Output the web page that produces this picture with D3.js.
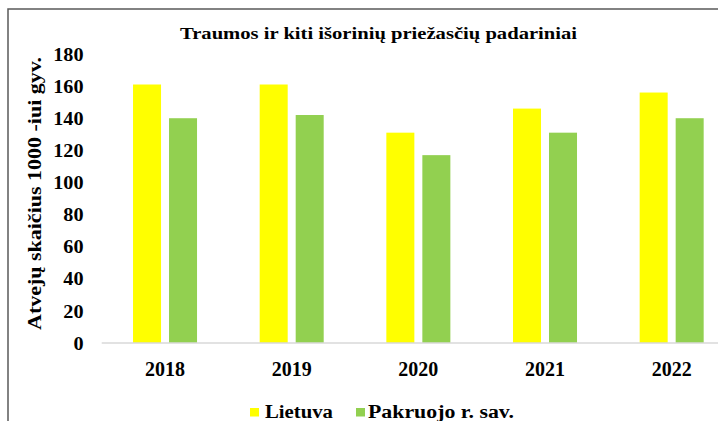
<!DOCTYPE html>
<html>
<head>
<meta charset="utf-8">
<script src="https://cdn.jsdelivr.net/npm/d3@7"></script>
<style>
  html, body { margin: 0; padding: 0; background: #fff; }
  svg { display: block; }
</style>
</head>
<body>
<svg id="chart" width="718" height="421"></svg>
<script>
// Chart data
const years = ["2018", "2019", "2020", "2021", "2022"];
const seriesNames = ["Lietuva", "Pakruojo r. sav."];
const lietuva = [161, 161, 131, 146, 156];
const pakruojo = [140, 142, 117, 131, 140];
const yTicks = [0, 20, 40, 60, 80, 100, 120, 140, 160, 180];
const colors = ["#ffff00", "#92d050"];

const FONT = '"Liberation Serif"';

const svg = d3.select("#chart");

function styleText(sel, size) {
  return sel.style("font-family", FONT)
    .style("font-size", size + "px")
    .style("font-weight", "bold")
    .attr("fill", "#000");
}

// Outer chart frame (extends beyond the right and bottom edges)
svg.append("rect")
  .attr("x", 8).attr("y", 9)
  .attr("width", 760).attr("height", 460)
  .attr("fill", "none")
  .attr("stroke", "#595959")
  .attr("stroke-width", 1.5);

const x0 = d3.scaleBand().domain(years).range([101.7, 735]).padding(0);
const x1 = d3.scaleBand().domain(seriesNames).range([0, x0.bandwidth()])
  .paddingInner(0.222).paddingOuter(0.87);
const y = d3.scaleLinear().domain([0, 180]).range([343, 54]);

const rows = years.map((yr, i) => ({ year: yr, values: [lietuva[i], pakruojo[i]] }));

// Bars
const groups = svg.append("g").selectAll("g")
  .data(rows).join("g")
  .attr("transform", d => `translate(${x0(d.year)},0)`);

groups.selectAll("rect")
  .data(d => d.values.map((v, j) => ({ name: seriesNames[j], value: v, j })))
  .join("rect")
  .attr("x", d => x1(d.name))
  .attr("width", x1.bandwidth())
  .attr("y", d => y(d.value))
  .attr("height", d => y(0) - y(d.value))
  .attr("fill", d => colors[d.j]);

// Category axis baseline
svg.append("line")
  .attr("x1", 101.7).attr("x2", 735)
  .attr("y1", y(0)).attr("y2", y(0))
  .attr("stroke", "#d9d9d9").attr("stroke-width", 1.5);

// X axis labels
const xAxis = d3.axisBottom(x0).tickSize(0).tickPadding(0);
const gx = svg.append("g").attr("transform", `translate(0,${y(0)})`).call(xAxis);
gx.attr("font-family", null);
gx.select(".domain").remove();
styleText(gx.selectAll("text"), 20).attr("y", 33).attr("dy", null);

// Y axis labels
const yAxis = d3.axisLeft(y).tickValues(yTicks).tickSize(0).tickPadding(0);
const gy = svg.append("g").attr("transform", "translate(83.5,0)").call(yAxis);
gy.attr("font-family", null);
gy.select(".domain").remove();
styleText(gy.selectAll("text"), 18)
  .attr("dy", "0.34em")
  .attr("textLength", d => String(d).length * 10.1)
  .attr("lengthAdjust", "spacingAndGlyphs");

// Title
styleText(svg.append("text"), 16)
  .attr("x", 180).attr("y", 39)
  .attr("textLength", 397)
  .attr("lengthAdjust", "spacingAndGlyphs")
  .text("Traumos ir kiti išorinių priežasčių padariniai");

// Y axis title
styleText(svg.append("text"), 18)
  .attr("transform", "translate(41,193.5) rotate(-90)")
  .attr("text-anchor", "middle")
  .attr("textLength", 273)
  .attr("lengthAdjust", "spacingAndGlyphs")
  .text("Atvejų skaičius 1000 -iui gyv.");

// Legend
const legendItems = [
  { name: seriesNames[0], color: colors[0], x: 250, w: 68, gap: 15 },
  { name: seriesNames[1], color: colors[1], x: 356, w: 146, gap: 12 }
];
const lg = svg.append("g").selectAll("g").data(legendItems).join("g")
  .attr("transform", d => `translate(${d.x},0)`);
lg.append("rect")
  .attr("x", 0).attr("y", 408).attr("width", 9).attr("height", 8.5)
  .attr("fill", d => d.color);
styleText(lg.append("text"), 18)
  .attr("x", d => d.gap).attr("y", 418)
  .attr("textLength", d => d.w)
  .attr("lengthAdjust", "spacingAndGlyphs")
  .text(d => d.name);
</script>
</body>
</html>
